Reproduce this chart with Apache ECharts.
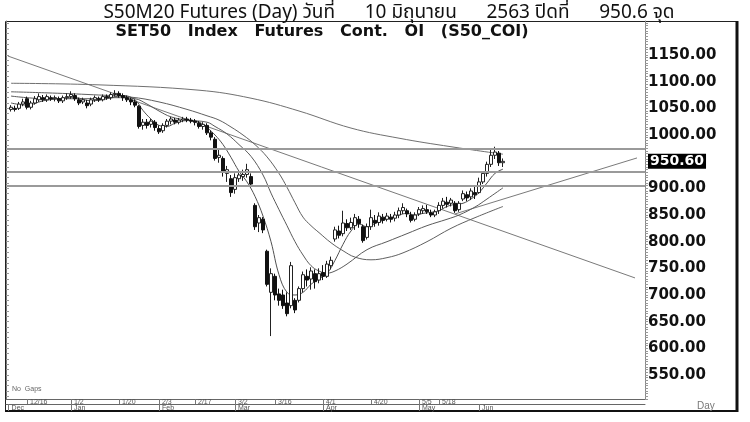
<!DOCTYPE html>
<html><head><meta charset="utf-8">
<script src="https://cdn.jsdelivr.net/npm/echarts@6/dist/echarts.min.js"></script>
<style>html,body{margin:0;padding:0;background:#fff}#c{width:750px;height:422px}</style>
</head><body><div id="c"></div>
<script>
// ---- data (day index 0 = 12/16/2019) ----
const firstDay = -4;
const dates = ['12/9','12/11','12/12','12/13','12/16','12/17','12/18','12/19','12/20','12/23','12/24','12/25','12/26','12/27','12/30',
'1/2','1/3','1/6','1/7','1/8','1/9','1/10','1/13','1/14','1/15','1/16','1/17','1/20','1/21','1/22','1/23','1/24','1/27','1/28','1/29','1/30','1/31',
'2/3','2/4','2/5','2/6','2/7','2/11','2/12','2/13','2/14','2/17','2/18','2/19','2/20','2/21','2/24','2/25','2/26','2/27','2/28',
'3/2','3/3','3/4','3/5','3/6','3/9','3/10','3/11','3/12','3/13','3/16','3/17','3/18','3/19','3/20','3/23','3/24','3/25','3/26','3/27','3/30','3/31',
'4/1','4/2','4/3','4/7','4/8','4/9','4/10','4/13','4/14','4/15','4/16','4/17','4/20','4/21','4/22','4/23','4/24','4/27','4/28','4/29','4/30',
'5/5','5/7','5/8','5/11','5/12','5/13','5/14','5/15','5/18','5/19','5/20','5/21','5/22','5/25','5/26','5/27','5/28','5/29',
'6/1','6/2','6/4','6/5','6/8','6/9','6/10'];
const openP = [1048,1050,1050,1058,1068,1052,1060,1066,1070,1066,1070,1068,1068,1064,1070,
1072,1074,1066,1062,1060,1058,1066,1068,1066,1072,1070,1076,1078,1074,1070,1066,1062,1054,1018,1024,1020,1024,
1012,1008,1018,1026,1028,1024,1028,1030,1028,1026,1022,1016,1018,1004,992,958,956,928,918,
898,918,922,926,922,868,835,842,782,705,735,702,700,685,680,690,690,712,735,730,740,728,
742,735,755,805,820,815,834,826,830,842,828,808,828,840,836,846,842,846,844,850,858,
858,850,842,852,858,860,854,850,858,868,874,872,872,860,880,888,884,892,
892,912,928,945,962,966,948];
const closeP = [1052,1048,1058,1062,1052,1060,1068,1072,1066,1072,1068,1070,1064,1070,1072,
1076,1068,1060,1066,1055,1066,1070,1066,1072,1070,1076,1078,1074,1070,1066,1062,1056,1016,1024,1018,1026,1014,
1006,1018,1026,1030,1024,1028,1030,1028,1026,1024,1016,1020,1004,996,956,962,930,935,892,
920,925,926,935,908,828,845,822,720,740,700,690,680,665,755,672,712,738,728,745,725,740,
735,758,765,822,812,835,826,836,845,834,802,828,845,835,848,840,848,842,850,858,864,
852,840,850,860,862,856,850,856,868,876,870,878,858,872,890,882,895,888,
912,928,945,962,968,948,950.6];
const lowP = [1044,1044,1047,1054,1048,1048,1057,1062,1062,1062,1064,1063,1060,1060,1066,
1068,1064,1056,1058,1050,1054,1062,1062,1063,1066,1066,1072,1070,1064,1062,1056,1052,1012,1010,1012,1014,1008,
1002,1004,1014,1020,1020,1020,1024,1024,1022,1018,1012,1010,1000,990,952,948,922,912,884,
890,912,914,920,902,822,818,816,716,623,690,680,674,660,675,666,686,705,716,710,712,722,
728,732,748,800,806,810,820,822,822,826,798,804,822,828,830,834,838,836,838,844,852,
846,836,838,848,852,852,846,846,852,862,864,866,854,856,876,876,878,880,
890,908,922,940,955,942,940];
const highP = [1056,1055,1062,1068,1072,1064,1073,1078,1075,1076,1074,1074,1072,1074,1078,
1082,1078,1070,1070,1066,1070,1074,1072,1076,1076,1080,1084,1082,1078,1074,1070,1066,1056,1030,1030,1030,1028,
1018,1022,1030,1034,1032,1032,1034,1034,1032,1030,1026,1024,1022,1008,996,972,960,942,925,
928,932,935,946,928,872,850,846,785,750,740,712,710,705,762,694,716,744,748,752,748,750,
756,764,772,828,830,858,842,845,852,848,832,834,860,850,855,852,854,852,856,864,872,
862,856,855,865,868,869,860,860,874,882,884,882,876,876,896,894,900,903,
920,932,950,972,978,970,956];

// moving-average lines: [day, value]
const maFast = [[-4,1060],[0,1056],[4,1064],[8,1068],[12,1070],[16,1064],[20,1068],[24,1074],[27,1066],[29,1046],[31,1030],[33,1018],[35,1016],[37,1022],[40,1027],[43,1024],[45,1014],[47,1000],[49,982],[51,958],[53,932],[55,912],[57,885],[59,848],[61,800],[63,738],[65,705],[67,700],[69,705],[71,720],[73,730],[75,740],[77,765],[79,795],[81,820],[83,833],[85,828],[87,834],[89,840],[91,845],[93,850],[95,853],[97,850],[99,853],[101,855],[103,858],[105,866],[107,870],[109,872],[111,880],[113,892],[115,910],[117,928],[119,936]];
const maMid = [[-4,1073],[5,1068],[15,1068],[22,1070],[27,1068],[30,1058],[33,1045],[36,1034],[40,1028],[45,1024],[47,1016],[50,1002],[53,982],[56,960],[59,925],[61,891],[63,860],[65,830],[67,800],[69,775],[71,755],[73,745],[75,741],[77,745],[80,758],[85,785],[90,800],[95,815],[100,830],[105,842],[108,850],[112,865],[115,880],[119,901]];
const maSlow = [[-4,1081],[5,1079],[15,1076],[26,1071],[33,1062],[40,1048],[45,1036],[48,1028],[51,1015],[54,1000],[57,982],[60,959],[63,928],[65,902],[67,873],[69,846],[71,830],[73,817],[76,798],[79,783],[82,771],[86,766],[90,770],[94,779],[100,800],[106,825],[112,845],[119,866]];
const maLong = [[-4,1097],[18,1094],[43,1084],[56,1069],[68,1045],[81,1013],[93,994],[106,978],[119,964]];

const hLevels = [975, 932, 905];
const fallTrend = [[-4.75,1148],[152,732]];
const riseTrend = [[107,852],[152.5,957]];

const dateTickDays = [0,11,23,33,42,52,62,74,86,98,103];
const dateTickLabels = ['12/16','1/2','1/20','2/3','2/17','3/2','3/16','4/1','4/20','5/5','5/18'];
const monthTickDays = [-4.6,11,33,52,74,98,113];
const monthLabels = ['Dec','Jan','Feb','Mar','Apr','May','Jun'];
const yLabelValues = [550,600,650,700,750,800,850,900,950.6,1000,1050,1100,1150];
const lastClose = 950.6;

// ---- chart ----
const X_MIN = -5.25, X_MAX = 154.5, Y_MIN = 505, Y_MAX = 1213.75;
const yMinor = []; for (let v = 505; v <= 1210; v += 5) yMinor.push(v);
const yLeftTicks = []; for (let v = 510; v <= 1210; v += 10) yLeftTicks.push(v);
const lookup = (vals, labs) => v => { const i = vals.findIndex(t => Math.abs(t - v) < 1e-6); return i < 0 ? '' : labs[i]; };

const chart = echarts.init(document.getElementById('c'), null, {renderer: 'canvas'});
const lineBase = (data, color, width, smooth) => ({
  type: 'line', data, symbol: 'none', smooth, silent: true,
  lineStyle: {color, width}, z: 3
});
chart.setOption({
  animation: false,
  backgroundColor: '#fff',
  title: [
    {text: 'S50M20 Futures (Day) วันที่      10 มิถุนายน      2563 ปิดที่      950.6 จุด', left: 384, top: -2, textAlign: 'center',
     textStyle: {fontSize: 19, fontWeight: 'normal', color: '#111', fontFamily: '"Noto Sans", "Noto Sans Thai", "Loma", "Garuda", sans-serif'}},
    {text: 'SET50   Index   Futures   Cont.   OI   (S50_COI)', left: 317, top: 19, textAlign: 'center',
     textStyle: {fontSize: 16, fontWeight: 'bold', color: '#111', fontFamily: '"DejaVu Sans", sans-serif'}}
  ],
  grid: {left: 6, right: 105, top: 21, bottom: 23},
  xAxis: [
    {type: 'value', min: X_MIN, max: X_MAX, position: 'bottom',
     axisLine: {show: true, onZero: false, lineStyle: {color: '#666'}},
     axisTick: {show: true, customValues: dateTickDays, length: 5, lineStyle: {color: '#777'}},
     axisLabel: {customValues: dateTickDays, formatter: lookup(dateTickDays, dateTickLabels), fontSize: 7, color: '#555',
                 align: 'left', margin: 0, padding: [0,0,0,3], fontFamily: 'Arial, "Liberation Sans", sans-serif'},
     splitLine: {show: false}},
    {type: 'value', min: X_MIN, max: X_MAX, position: 'bottom', offset: 5,
     axisLine: {show: true, onZero: false, lineStyle: {color: '#666'}},
     axisTick: {show: true, customValues: monthTickDays, length: 7, lineStyle: {color: '#777'}},
     axisLabel: {customValues: monthTickDays, formatter: lookup(monthTickDays, monthLabels), fontSize: 7, color: '#555',
                 align: 'left', margin: 1, padding: [0,0,0,3], fontFamily: 'Arial, "Liberation Sans", sans-serif'},
     splitLine: {show: false}}
  ],
  yAxis: [
    {type: 'value', position: 'right', min: Y_MIN, max: Y_MAX,
     axisLine: {show: true, onZero: false, lineStyle: {color: '#888'}},
     axisTick: {show: true, customValues: yMinor, length: 3, lineStyle: {color: '#999'}},
     axisLabel: {customValues: yLabelValues, margin: 3, color: '#111', fontSize: 15, fontWeight: 'bold',
                 fontFamily: '"DejaVu Sans", sans-serif',
                 formatter: v => Math.abs(v - lastClose) < 1e-6 ? '{hl|' + v.toFixed(2) + '}' : v.toFixed(2),
                 rich: {hl: {backgroundColor: '#000', color: '#fff', fontSize: 14, fontWeight: 'bold',
                             fontFamily: '"DejaVu Sans", sans-serif', padding: [1, 2, 0, 2]}}},
     splitLine: {show: false}},
    {type: 'value', position: 'left', min: Y_MIN, max: Y_MAX,
     axisLine: {show: true, onZero: false, lineStyle: {color: '#777'}},
     axisTick: {show: true, inside: true, customValues: yLeftTicks, length: 3, lineStyle: {color: '#999'}},
     axisLabel: {show: false}, splitLine: {show: false}}
  ],
  series: [
    {type: 'line', data: [], silent: true,
     markLine: {symbol: 'none', silent: true, label: {show: false},
                lineStyle: {color: '#9a9a9a', width: 2, type: 'solid'},
                data: hLevels.map(v => ({yAxis: v}))}},
    lineBase(fallTrend, '#7a7a7a', 1, false),
    lineBase(riseTrend, '#7a7a7a', 1, false),
    lineBase(maLong, '#707070', 1, 0.4),
    lineBase(maSlow, '#606060', 1, 0.4),
    lineBase(maMid, '#5a5a5a', 1, 0.4),
    lineBase(maFast, '#505050', 1, 0.4),
    {type: 'candlestick', barWidth: 3, z: 4,
     data: dates.map((_, i) => [i + firstDay, openP[i], closeP[i], lowP[i], highP[i]]),
     encode: {x: 0, y: [1, 2, 3, 4]},
     itemStyle: {color: '#fff', color0: '#111', borderColor: '#222', borderColor0: '#111', borderWidth: 1}}
  ],
  graphic: [
    {type: 'rect', shape: {x: 5.5, y: 21.5, width: 731, height: 389}, style: {fill: 'none', stroke: '#222', lineWidth: 1}, silent: true},
    {type: 'line', shape: {x1: 737, y1: 21, x2: 737, y2: 412}, style: {stroke: '#111', lineWidth: 3}, silent: true},
    {type: 'line', shape: {x1: 5, y1: 411, x2: 738, y2: 411}, style: {stroke: '#111', lineWidth: 2}, silent: true},
    {type: 'text', x: 12, y: 386, style: {text: 'No  Gaps', font: '7px Arial, "Liberation Sans", sans-serif', fill: '#666'}, silent: true},
    {type: 'text', x: 697, y: 401, style: {text: 'Day', font: '10px Arial, "Liberation Sans", sans-serif', fill: '#777'}, silent: true}
  ]
});
</script></body></html>
